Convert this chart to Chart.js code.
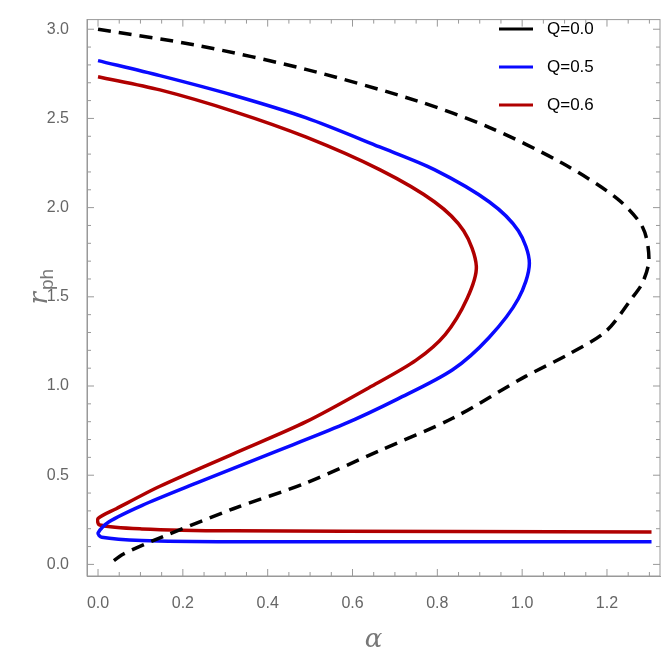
<!DOCTYPE html>
<html>
<head>
<meta charset="utf-8">
<script src="https://cdn.jsdelivr.net/npm/chart.js@4"></script>
<style>
  body { margin: 0; background: #fff; }
  #wrap { width: 664px; height: 659px; }
</style>
</head>
<body>
<div id="wrap"><canvas id="c"></canvas></div>
<script>
// Q = 0.0 (dashed)
const q0Alpha = [0.0, 0.233, 0.49, 0.75, 0.922, 1.094, 1.224, 1.284, 1.299, 1.284, 1.258, 1.198, 1.112, 1.008, 0.836, 0.664, 0.491, 0.319, 0.146, 0.06, 0.026];
const q0R     = [3.0, 2.91, 2.775, 2.6, 2.45, 2.25, 2.05, 1.89, 1.71, 1.58, 1.49, 1.308, 1.181, 1.054, 0.819, 0.638, 0.457, 0.312, 0.149, 0.058, 0.0];
// Q = 0.5
const q5Alpha = [0.0, 0.146, 0.319, 0.491, 0.664, 0.793, 0.922, 0.991, 1.017, 0.991, 0.922, 0.836, 0.707, 0.577, 0.405, 0.233, 0.103, 0.026, 0.0, 0.009, 0.103, 0.319, 0.836, 1.305];
const q5R     = [2.824, 2.74, 2.63, 2.503, 2.34, 2.213, 2.033, 1.87, 1.688, 1.489, 1.272, 1.091, 0.928, 0.783, 0.62, 0.457, 0.33, 0.239, 0.176, 0.152, 0.134, 0.127, 0.127, 0.127];
// Q = 0.6
const q6Alpha = [0.0, 0.146, 0.319, 0.491, 0.664, 0.793, 0.862, 0.892, 0.87, 0.819, 0.75, 0.646, 0.491, 0.319, 0.146, 0.043, 0.0, 0.004, 0.103, 0.319, 0.836, 1.305];
const q6R     = [2.734, 2.66, 2.54, 2.395, 2.213, 2.033, 1.87, 1.67, 1.489, 1.29, 1.145, 1.0, 0.80, 0.62, 0.438, 0.312, 0.257, 0.221, 0.199, 0.188, 0.185, 0.181];
const legendLabels = ['Q=0.0', 'Q=0.5', 'Q=0.6'];
const colors = ['#000000', '#0a0aff', '#b00000'];
const xMajor = [0, 0.2, 0.4, 0.6, 0.8, 1.0, 1.2];
const yMajor = [0, 0.5, 1.0, 1.5, 2.0, 2.5, 3.0];

const pts = (xs, ys) => xs.map((x, i) => ({ x: x, y: ys[i] }));
const isMajor = (v, list) => list.some(m => Math.abs(m - v) < 1e-6);
const range = (a, b, s) => { const r = []; for (let i = 0; a + i * s <= b + 1e-9; i++) r.push(+(a + i * s).toFixed(3)); return r; };

const decor = {
  id: 'decor',
  afterDraw(chart) {
    const { ctx, chartArea: a, scales } = chart;
    ctx.save();
    ctx.strokeStyle = '#999';
    ctx.lineWidth = 1;
    ctx.strokeRect(a.left, a.top, a.right - a.left, a.bottom - a.top);
    // ticks on the top and right of the frame, taken from the scales
    ctx.beginPath();
    scales.x.ticks.forEach(t => {
      const px = scales.x.getPixelForValue(t.value);
      const len = isMajor(t.value, xMajor) ? 7 : 4;
      ctx.moveTo(px, a.top); ctx.lineTo(px, a.top + len);
      ctx.moveTo(px, a.bottom); ctx.lineTo(px, a.bottom - len);
    });
    scales.y.ticks.forEach(t => {
      const py = scales.y.getPixelForValue(t.value);
      const len = isMajor(t.value, yMajor) ? 7 : 4;
      ctx.moveTo(a.right, py); ctx.lineTo(a.right - len, py);
      ctx.moveTo(a.left, py); ctx.lineTo(a.left + len, py);
    });
    ctx.stroke();
    // legend
    ctx.font = '17px Arial';
    ctx.textBaseline = 'middle';
    legendLabels.forEach((l, i) => {
      const y = 29 + i * 38;
      ctx.strokeStyle = colors[i];
      ctx.lineWidth = 3;
      ctx.beginPath(); ctx.moveTo(499, y); ctx.lineTo(533, y); ctx.stroke();
      ctx.fillStyle = '#000';
      ctx.fillText(l, 547, y);
    });
    // axis titles
    ctx.fillStyle = '#777';
    ctx.font = 'italic 26px "DejaVu Serif"';
    ctx.textAlign = 'center';
    ctx.fillText('α', (a.left + a.right) / 2, 640);
    ctx.translate(40, 290);
    ctx.rotate(-Math.PI / 2);
    ctx.textAlign = 'right';
    ctx.fillText('r', -2, 0);
    ctx.font = '19px Arial';
    ctx.textAlign = 'left';
    ctx.fillText('ph', 0, 8);
    ctx.restore();
  }
};

new Chart(document.getElementById('c'), {
  type: 'scatter',
  data: {
    datasets: [
      { data: pts(q0Alpha, q0R), borderColor: colors[0], borderDash: [13, 8] },
      { data: pts(q5Alpha, q5R), borderColor: colors[1] },
      { data: pts(q6Alpha, q6R), borderColor: colors[2] }
    ].map(d => Object.assign(d, { showLine: true, pointRadius: 0, borderWidth: 3.5, tension: 0.3, fill: false }))
  },
  options: {
    responsive: true,
    maintainAspectRatio: false,
    animation: false,
    layout: { padding: { top: 2, right: 4, left: 0, bottom: 0 } },
    plugins: { legend: { display: false }, tooltip: { enabled: false } },
    scales: {
      x: {
        type: 'linear', min: -0.026, max: 1.325,
        afterBuildTicks: s => { s.ticks = range(0, 1.3, 0.05).map(v => ({ value: v })); },
        ticks: { color: '#666', font: { size: 16, family: 'Arial' }, autoSkip: false, maxRotation: 0,
                 callback: v => isMajor(v, xMajor) ? v.toFixed(1) : '', padding: 10 },
        grid: { display: false },
        border: { color: '#999' },
        afterFit: s => { s.height = 83; }
      },
      y: {
        type: 'linear', min: -0.065, max: 3.054,
        afterBuildTicks: s => { s.ticks = range(0, 3.0, 0.1).map(v => ({ value: v })); },
        ticks: { color: '#666', font: { size: 16, family: 'Arial' }, autoSkip: false,
                 callback: v => isMajor(v, yMajor) ? v.toFixed(1) : '', padding: 10 },
        grid: { display: false },
        border: { color: '#999' },
        afterFit: s => { s.width = 87; }
      }
    }
  },
  plugins: [decor]
});
</script>
</body>
</html>
